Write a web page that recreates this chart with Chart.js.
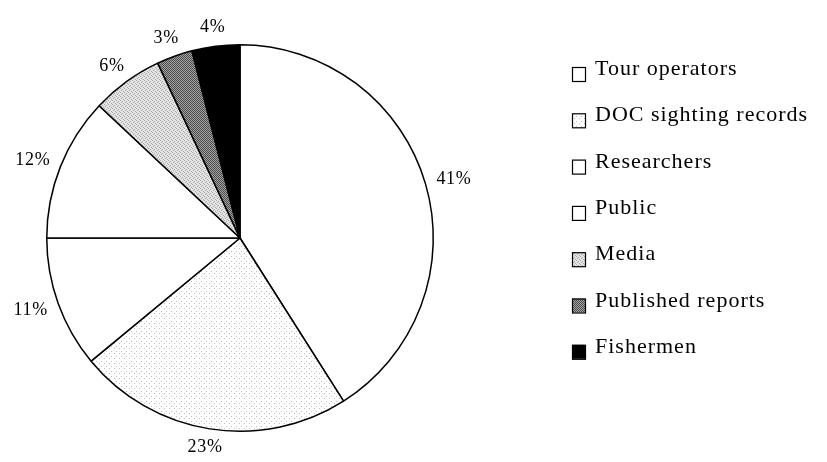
<!DOCTYPE html>
<html>
<head>
<meta charset="utf-8">
<script src="https://cdn.jsdelivr.net/npm/chart.js@4/dist/chart.umd.min.js"></script>
<style>
    html, body { margin: 0; padding: 0; background: #fff; }
    #wrap { width: 827px; height: 462px; position: relative; }
</style>
</head>
<body>
<div id="wrap"><canvas id="sourceChart"></canvas></div>
<script>
// Sighting sources (percent)
const sourceLabels = ['Tour operators', 'DOC sighting records', 'Researchers', 'Public', 'Media', 'Published reports', 'Fishermen'];
const sourceValues = [41, 23, 11, 12, 6, 3, 4];

// Small dotted fills, like the old print shading
function makePattern(size, bg, dot, cells) {
    const c = document.createElement('canvas');
    c.width = size;
    c.height = size;
    const g = c.getContext('2d');
    g.fillStyle = bg;
    g.fillRect(0, 0, size, size);
    g.fillStyle = dot;
    cells.forEach(p => g.fillRect(p[0], p[1], 1, 1));
    return g.createPattern(c, 'repeat');
}

const fills = [
    '#ffffff',
    makePattern(5, '#ffffff', '#bdbdbd', [[1, 1], [4, 3]]),
    '#ffffff',
    '#ffffff',
    makePattern(4, '#e4e4e4', '#a8a8a8', [[0, 0], [2, 1], [1, 2], [3, 3]]),
    makePattern(4, '#a4a4a4', '#4a4a4a', [[0, 0], [2, 0], [1, 1], [3, 1], [0, 2], [2, 2], [1, 3], [3, 3]]),
    '#000000'
];

// Percent labels just outside each slice
const percentLabels = {
    id: 'percentLabels',
    afterDatasetsDraw(chart) {
        const ctx = chart.ctx;
        const meta = chart.getDatasetMeta(0);
        ctx.save();
        ctx.font = '18px "Liberation Serif", "Times New Roman", serif';
        ctx.letterSpacing = '0.7px';
        ctx.fillStyle = '#000';
        ctx.textAlign = 'center';
        ctx.textBaseline = 'middle';
        meta.data.forEach((arc, i) => {
            const a = (arc.startAngle + arc.endAngle) / 2;
            const text = sourceValues[i] + '%';
            const w = ctx.measureText(text).width;
            const r = arc.outerRadius + 10;
            const px = arc.x + Math.cos(a) * r;
            const py = arc.y + Math.sin(a) * r;
            const tx = px + Math.cos(a) * (w / 2 + 2);
            const ty = py + Math.sin(a) * 9;
            ctx.fillText(text, tx, ty);
        });
        ctx.restore();
    }
};

// Legend on the right, drawn on the canvas
const sideLegend = {
    id: 'sideLegend',
    afterDraw(chart) {
        const ctx = chart.ctx;
        const left = 572;
        const top = 70;
        const rowGap = 46.3;
        const box = 13;
        ctx.save();
        ctx.font = '22px "Liberation Serif", "Times New Roman", serif';
        ctx.letterSpacing = '1px';
        ctx.textAlign = 'left';
        ctx.textBaseline = 'alphabetic';
        sourceLabels.forEach((label, i) => {
            const y = top + i * rowGap;
            ctx.fillStyle = fills[i];
            ctx.fillRect(left, y - 3, box, box + 1);
            ctx.strokeStyle = '#000';
            ctx.lineWidth = 1.2;
            ctx.strokeRect(left + 0.5, y - 2.5, box, box + 1);
            ctx.fillStyle = '#000';
            ctx.fillText(label, left + 23, y + 5);
        });
        ctx.restore();
    }
};

window.addEventListener('load', function () {
    const ctx = document.getElementById('sourceChart').getContext('2d');
    new Chart(ctx, {
        type: 'pie',
        data: {
            labels: sourceLabels,
            datasets: [{
                data: sourceValues,
                backgroundColor: fills,
                borderColor: '#000',
                borderWidth: 1.5
            }]
        },
        options: {
            responsive: true,
            maintainAspectRatio: false,
            animation: false,
            layout: {
                padding: { left: 46, top: 44, right: 393, bottom: 30 }
            },
            plugins: {
                legend: { display: false },
                tooltip: { enabled: false }
            }
        },
        plugins: [percentLabels, sideLegend]
    });
});
</script>
</body>
</html>
